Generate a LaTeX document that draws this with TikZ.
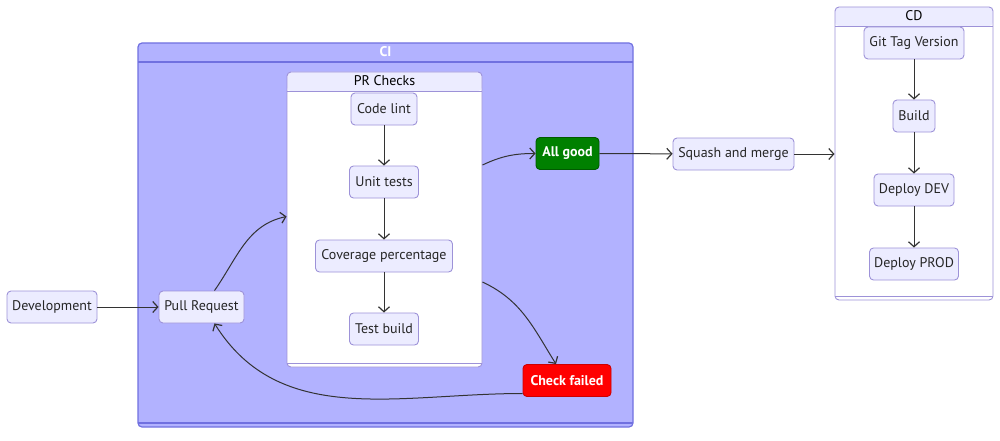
\documentclass[tikz,border=0pt]{standalone}
\usepackage{fontspec}
\setmainfont{PT Sans}
\usetikzlibrary{arrows.meta}
\definecolor{nodefill}{HTML}{ECECFF}
\definecolor{nodeline}{HTML}{9D92D8}
\definecolor{cifill}{HTML}{B2B2FF}
\definecolor{ciline}{HTML}{7070E0}
\definecolor{edgecol}{HTML}{333333}
\definecolor{goodfill}{HTML}{008000}
\definecolor{badfill}{HTML}{FF0000}

\begin{document}
\begin{tikzpicture}[x=1pt, y=1pt, font=\fontsize{14}{16}\selectfont,
    state/.style={draw=nodeline, fill=nodefill, rounded corners=4pt, minimum height=32pt, inner xsep=3pt, line width=0.9pt, text=black!85},
    good/.style={state, fill=goodfill, draw=goodfill!70!black, text=white, font=\fontsize{14}{16}\selectfont\bfseries},
    bad/.style={state, fill=badfill, draw=badfill!80!black, text=white, font=\fontsize{14}{16}\selectfont\bfseries},
    cluster/.style={draw=nodeline, fill=white, rounded corners=4pt, inner sep=0pt, line width=0.9pt,
      path picture={
        \fill[nodefill] (path picture bounding box.north west) rectangle ([yshift=-19pt]path picture bounding box.north east);
        \draw[nodeline, line width=0.9pt] ([yshift=-19pt]path picture bounding box.north west) -- ([yshift=-19pt]path picture bounding box.north east);
        \draw[nodeline, line width=0.9pt] ([yshift=4pt]path picture bounding box.south west) -- ([yshift=4pt]path picture bounding box.south east);}},
    cibox/.style={draw=ciline, fill=cifill, rounded corners=4pt, inner sep=0pt, line width=1.2pt,
      path picture={
        \draw[ciline, line width=1.2pt] ([yshift=-19pt]path picture bounding box.north west) -- ([yshift=-19pt]path picture bounding box.north east);
        \draw[ciline, line width=1.2pt] ([yshift=4pt]path picture bounding box.south west) -- ([yshift=4pt]path picture bounding box.south east);}},
    arr/.style={draw=edgecol, line width=1pt, -{Straight Barb[length=5pt,width=11pt,line width=1.2pt]}}]

\useasboundingbox (0,0) rectangle (1000,-441);

\node[cibox, minimum width=495pt, minimum height=384pt] (ci) at (385.5,-235) {};
\node[font=\fontsize{14}{16}\selectfont\bfseries, text=white] (cititle) at ([yshift=-9.5pt]ci.north) {CI};
\node[cluster, minimum width=195pt, minimum height=295pt] (prchecks) at (384.5,-219.5) {};
\node (prtitle) at ([yshift=-9.5pt]prchecks.north) {PR Checks};
\node[cluster, minimum width=158pt, minimum height=293pt] (cd) at (914,-153.5) {};
\node (cdtitle) at ([yshift=-9pt]cd.north) {CD};

\node[state, minimum width=90pt] (dev) at (52,-307) {Development};
\node[state, minimum width=85pt] (pull) at (201.5,-307) {Pull Request};

\node[state, minimum width=66pt] (lint) at (384,-109) {Code lint};
\node[state, minimum width=69pt] (unit) at (384,-182) {Unit tests};
\node[state, minimum width=137pt] (cover) at (384,-256) {Coverage percentage};
\node[state, minimum width=69pt] (testbuild) at (384,-329) {Test build};

\node[good, minimum width=63pt] (allgood) at (567.5,-153.5) {All good};
\node[bad, minimum width=88pt] (failed) at (567,-380.5) {Check failed};
\node[state, minimum width=121pt] (squash) at (733.5,-154) {Squash and merge};

\node[state, minimum width=100pt] (tag) at (914,-43) {Git Tag Version};
\node[state, minimum width=42pt] (build) at (914,-116) {Build};
\node[state, minimum width=80pt] (dev2) at (914,-190) {Deploy DEV};
\node[state, minimum width=89pt] (prod) at (914,-264) {Deploy PROD};

\draw[arr] (dev) -- (pull);
\draw[arr] ([xshift=13pt]pull.north) to[out=55,in=192] ([yshift=3pt]prchecks.west);
\draw[arr] (lint) -- (unit);
\draw[arr] (unit) -- (cover);
\draw[arr] (cover) -- (testbuild);
\draw[arr] ([yshift=54.5pt]prchecks.east) to[out=25,in=180] (allgood.west);
\draw[arr] ([yshift=-62.5pt]prchecks.east) to[out=-25,in=122] ([xshift=-11pt]failed.north);
\draw[arr] ([yshift=-13pt]failed.west) to[out=180,in=-58] ([xshift=13pt]pull.south);
\draw[arr] (allgood) -- (squash);
\draw[arr] (squash) -- (cd.west |- squash);
\draw[arr] (tag) -- (build);
\draw[arr] (build) -- (dev2);
\draw[arr] (dev2) -- (prod);

\end{tikzpicture}
\end{document}
